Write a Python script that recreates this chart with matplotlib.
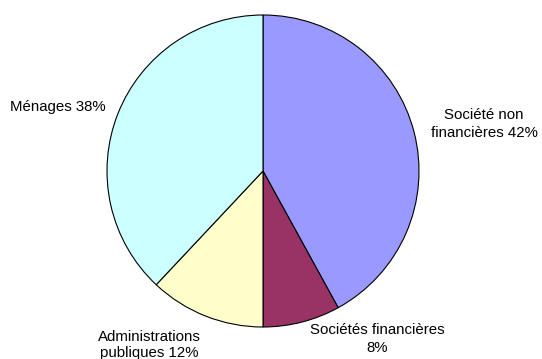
import matplotlib.pyplot as plt
import matplotlib

matplotlib.use('agg')
plt.rcParams['font.family'] = ['Liberation Sans', 'DejaVu Sans']

# shares by institutional sector (%)
sectors = ['Société non\nfinancières', 'Sociétés financières', 'Administrations\npubliques', 'Ménages']
shares = [42, 8, 12, 38]
colors = ['#9999FF', '#993366', '#FFFFCC', '#CCFFFF']

W, H = 542, 359
fig = plt.figure(figsize=(W / 100, H / 100), dpi=100)
ax = fig.add_axes([0, 0, 1, 1])

ax.pie(shares, colors=colors, startangle=90, counterclock=False,
       center=(263, H - 171), radius=156,
       wedgeprops=dict(edgecolor='black', linewidth=0.8))

# pie() resets the view, so fix the pixel-like frame afterwards
ax.set_xlim(0, W)
ax.set_ylim(0, H)
ax.set_aspect('equal')
ax.axis('off')

fs = 10.8
ax.text(484, H - 124, f"{sectors[0]} {shares[0]}%", ha='center', va='center',
        fontsize=fs, linespacing=1.3)
ax.text(377, H - 339, f"{sectors[1]}\n{shares[1]}%", ha='center', va='center',
        fontsize=fs, linespacing=1.3)
ax.text(149, H - 345, f"{sectors[2]} {shares[2]}%", ha='center', va='center',
        fontsize=fs, linespacing=1.15)
ax.text(10, H - 107, f"{sectors[3]} {shares[3]}%", ha='left', va='center',
        fontsize=fs)

fig.savefig('out.png', dpi=100)
plt.close(fig)
